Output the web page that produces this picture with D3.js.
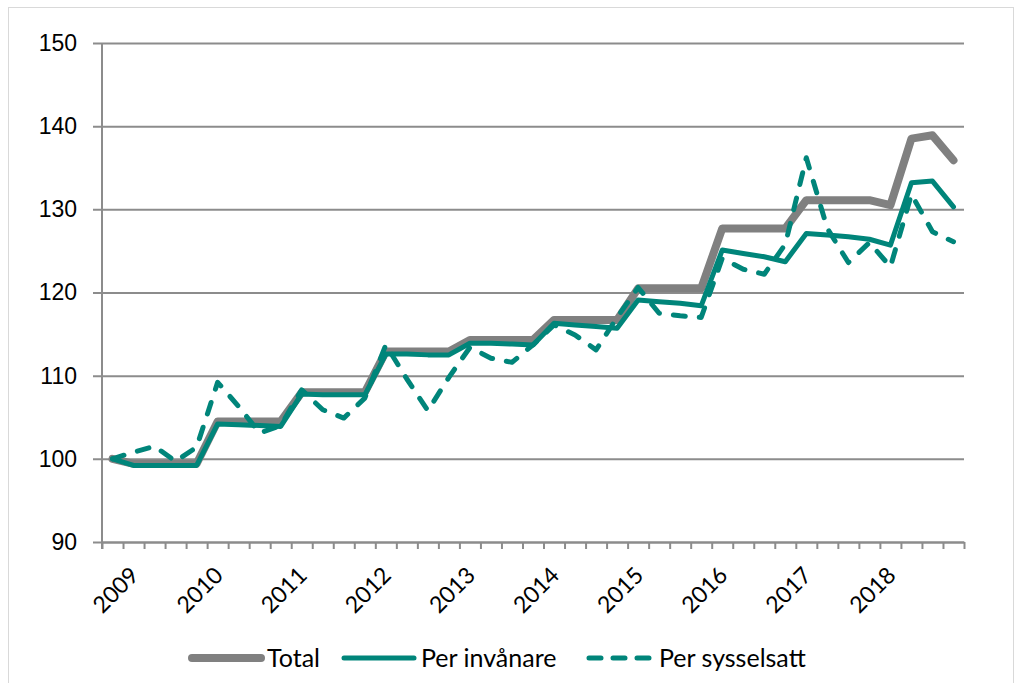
<!DOCTYPE html>
<html>
<head>
<meta charset="utf-8">
<script src="https://cdn.jsdelivr.net/npm/d3@7"></script>
<style>
  body { margin: 0; background: #fff; }
  svg { display: block; font-family: Lato, "Open Sans", sans-serif; }
</style>
</head>
<body>
<svg id="chart" width="1021" height="683"></svg>
<script>
// kvartal: första punkten är basen (=100), sedan 2009 K1 ... 2018 K4
const labels = ["",
  "2009", "", "", "", "2010", "", "", "", "2011", "", "", "",
  "2012", "", "", "", "2013", "", "", "", "2014", "", "", "",
  "2015", "", "", "", "2016", "", "", "", "2017", "", "", "",
  "2018", "", "", ""];

const total = [100,
  99.4, 99.4, 99.4, 99.4, 104.5, 104.5, 104.5, 104.5, 108.0, 108.0, 108.0, 108.0,
  112.9, 112.9, 112.9, 112.9, 114.3, 114.3, 114.3, 114.3, 116.7, 116.7, 116.7, 116.7,
  120.5, 120.5, 120.5, 120.5, 127.7, 127.7, 127.7, 127.7, 131.1, 131.1, 131.1, 131.1,
  130.5, 138.5, 138.9, 135.9];

const perInvanare = [100,
  99.2, 99.2, 99.2, 99.2, 104.2, 104.1, 104.0, 103.9, 107.8, 107.7, 107.7, 107.7,
  112.6, 112.6, 112.5, 112.5, 113.9, 113.9, 113.8, 113.7, 116.3, 116.1, 115.9, 115.7,
  119.1, 118.9, 118.7, 118.4, 125.1, 124.7, 124.3, 123.7, 127.1, 126.9, 126.7, 126.4,
  125.7, 133.2, 133.4, 130.3];

const perSysselsatt = [100,
  100.8, 101.5, 99.7, 101.4, 109.2, 106.3, 103.1, 104.0, 108.3, 105.9, 104.9, 107.3,
  113.7, 109.6, 105.8, 109.8, 113.4, 112.1, 111.6, 113.7, 116.1, 114.9, 113.1, 117.0,
  120.6, 117.5, 117.2, 117.0, 124.1, 122.8, 122.2, 125.8, 136.2, 127.7, 123.6, 126.0,
  123.1, 131.8, 127.3, 126.1];

const yTicks = [90, 100, 110, 120, 130, 140, 150];

const gray = "#808080";
const teal = "#00857a";
const axisGray = "#8c8c8c";

const svg = d3.select("#chart");

// ram runt diagrammet
svg.append("rect")
  .attr("x", 8.5).attr("y", 7.5)
  .attr("width", 1005).attr("height", 690)
  .attr("fill", "none")
  .attr("stroke", "#d9d9d9");

const plotLeft = 102, plotRight = 964, plotTop = 43, plotBottom = 542;

const x = d3.scaleLinear().domain([0, labels.length]).range([plotLeft, plotRight]);
const y = d3.scaleLinear().domain([90, 150]).range([plotBottom, plotTop]);

// rutnät + y-axel
const yAxis = d3.axisLeft(y)
  .tickValues(yTicks)
  .tickSize(-(plotRight - plotLeft))
  .tickPadding(25);

const yG = svg.append("g")
  .attr("transform", `translate(${plotLeft},0)`)
  .call(yAxis);
yG.select(".domain").remove();
yG.selectAll(".tick line")
  .attr("x1", -9)
  .attr("stroke", axisGray)
  .attr("stroke-width", 2);
yG.selectAll(".tick text")
  .attr("fill", "#000")
  .style("font-size", "23px");

svg.append("line")
  .attr("x1", plotLeft).attr("x2", plotLeft)
  .attr("y1", plotTop).attr("y2", plotBottom + 7)
  .attr("stroke", axisGray).attr("stroke-width", 2);

// x-axel med streck mellan kategorierna
const xAxis = d3.axisBottom(x)
  .tickValues(d3.range(labels.length + 1))
  .tickFormat("")
  .tickSize(7)
  .tickSizeOuter(0);

const xG = svg.append("g")
  .attr("transform", `translate(0,${plotBottom})`)
  .call(xAxis);
xG.select(".domain").attr("stroke", axisGray).attr("stroke-width", 2);
xG.selectAll(".tick line").attr("stroke", axisGray).attr("stroke-width", 2);

svg.append("g")
  .selectAll("text")
  .data(labels.map((l, i) => ({ l, i })).filter(d => d.l !== ""))
  .enter()
  .append("text")
  .attr("transform", d => `translate(${x(d.i + 0.5) + 1},${plotBottom + 29}) rotate(-45)`)
  .attr("text-anchor", "end")
  .attr("dy", "0.35em")
  .style("font-size", "23px")
  .text(d => d.l);

// linjer
const line = d3.line()
  .x((d, i) => x(i + 0.5))
  .y(d => y(d));

svg.append("path")
  .datum(total)
  .attr("d", line)
  .attr("fill", "none")
  .attr("stroke", gray)
  .attr("stroke-width", 8)
  .attr("stroke-linejoin", "round")
  .attr("stroke-linecap", "round");

svg.append("path")
  .datum(perInvanare)
  .attr("d", line)
  .attr("fill", "none")
  .attr("stroke", teal)
  .attr("stroke-width", 5)
  .attr("stroke-linejoin", "round")
  .attr("stroke-linecap", "round");

svg.append("path")
  .datum(perSysselsatt)
  .attr("d", line)
  .attr("fill", "none")
  .attr("stroke", teal)
  .attr("stroke-width", 5)
  .attr("stroke-dasharray", "12,14")
  .attr("stroke-linejoin", "round")
  .attr("stroke-linecap", "round");

// legend
const legend = [
  { name: "Total", color: gray, width: 8, dash: null, x1: 192, x2: 261, tx: 267 },
  { name: "Per invånare", color: teal, width: 5, dash: null, x1: 344, x2: 414, tx: 421 },
  { name: "Per sysselsatt", color: teal, width: 5, dash: "12,12", x1: 589, x2: 650, tx: 659 }
];
const ly = 658;
const lg = svg.append("g");
legend.forEach(d => {
  lg.append("line")
    .attr("x1", d.x1).attr("x2", d.x2)
    .attr("y1", ly).attr("y2", ly)
    .attr("stroke", d.color)
    .attr("stroke-width", d.width)
    .attr("stroke-linecap", "round")
    .attr("stroke-dasharray", d.dash);
  lg.append("text")
    .attr("x", d.tx).attr("y", ly)
    .attr("dy", "0.35em")
    .style("font-size", "25px")
    .text(d.name);
});
</script>
</body>
</html>
